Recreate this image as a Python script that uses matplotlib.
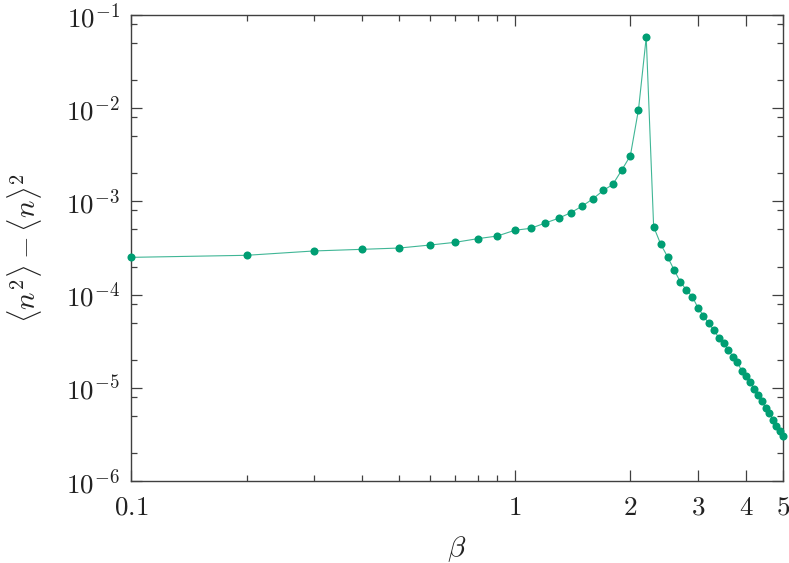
import numpy as np
import matplotlib
matplotlib.use("Agg")
import matplotlib.pyplot as plt
from matplotlib.ticker import FixedLocator, FixedFormatter, NullFormatter

plt.rcParams['mathtext.fontset'] = 'cm'
plt.rcParams['font.family'] = 'serif'
plt.rcParams['font.serif'] = ['DejaVu Serif']

# data
beta = [0.1, 0.2, 0.3, 0.4, 0.5, 0.6, 0.7, 0.8, 0.9, 1.0,
        1.1, 1.2, 1.3, 1.4, 1.5, 1.6, 1.7, 1.8, 1.9, 2.0,
        2.1, 2.2, 2.3, 2.4, 2.5, 2.6, 2.7, 2.8, 2.9, 3.0,
        3.1, 3.2, 3.3, 3.4, 3.5, 3.6, 3.7, 3.8, 3.9, 4.0,
        4.1, 4.2, 4.3, 4.4, 4.5, 4.6, 4.7, 4.8, 4.9, 5.0]
var_n = [2.51e-4, 2.64e-4, 2.94e-4, 3.06e-4, 3.16e-4, 3.40e-4, 3.64e-4, 3.98e-4, 4.25e-4, 4.90e-4,
         5.14e-4, 5.86e-4, 6.59e-4, 7.57e-4, 8.93e-4, 1.07e-3, 1.31e-3, 1.52e-3, 2.17e-3, 3.09e-3,
         9.64e-3, 5.77e-2, 5.35e-4, 3.47e-4, 2.55e-4, 1.84e-4, 1.37e-4, 1.12e-4, 9.5e-5, 7.24e-5,
         5.94e-5, 4.92e-5, 4.17e-5, 3.45e-5, 3.00e-5, 2.55e-5, 2.16e-5, 1.88e-5, 1.53e-5, 1.34e-5,
         1.16e-5, 9.7e-6, 8.3e-6, 7.17e-6, 6.12e-6, 5.41e-6, 4.55e-6, 3.92e-6, 3.43e-6, 3.04e-6]

xticks = [0.1, 1, 2, 3, 4, 5]
xtick_labels = ['$0.1$', '$1$', '$2$', '$3$', '$4$', '$5$']
xminor = [0.2, 0.3, 0.4, 0.5, 0.6, 0.7, 0.8, 0.9]
yticks = [1e-6, 1e-5, 1e-4, 1e-3, 1e-2, 1e-1]
ytick_labels = ['$10^{-6}$', '$10^{-5}$', '$10^{-4}$', '$10^{-3}$', '$10^{-2}$', '$10^{-1}$']

green = '#009e73'
axcol = '#404040'

fig = plt.figure(figsize=(7.89, 5.63), dpi=100)
ax = fig.add_axes([0.166, 0.1456, 0.8265, 0.8278])

ax.plot(beta, var_n, '-', color=green, lw=0.8, alpha=0.75, zorder=2)
ax.plot(beta, var_n, 'o', color=green, ms=5.8, mew=0, zorder=3, clip_on=False)

ax.set_xscale('log')
ax.set_yscale('log')
ax.set_xlim(0.1, 5)
ax.set_ylim(1e-6, 1e-1)

ax.xaxis.set_major_locator(FixedLocator(xticks))
ax.xaxis.set_major_formatter(FixedFormatter(xtick_labels))
ax.xaxis.set_minor_locator(FixedLocator(xminor))
ax.xaxis.set_minor_formatter(NullFormatter())

yminor = [m * d for d in [1e-6, 1e-5, 1e-4, 1e-3, 1e-2] for m in (2, 5, 8)]
ax.yaxis.set_major_locator(FixedLocator(yticks))
ax.yaxis.set_major_formatter(FixedFormatter(ytick_labels))
ax.yaxis.set_minor_locator(FixedLocator(yminor))
ax.yaxis.set_minor_formatter(NullFormatter())

ax.tick_params(which='both', direction='in', top=True, right=True, color=axcol, width=0.9)
ax.tick_params(which='major', length=8, labelsize=19.5, labelcolor='#222222')
ax.tick_params(which='minor', length=4)
ax.tick_params(axis='x', which='major', pad=9)
ax.tick_params(axis='y', which='major', pad=8)

for s in ax.spines.values():
    s.set_color(axcol)
    s.set_linewidth(1.0)

ax.set_xlabel(r'$\beta$', fontsize=21, color='#222222', labelpad=10)
ax.set_ylabel(r'$\langle n^2\rangle - \langle n\rangle^2$', fontsize=21, color='#222222', labelpad=16)

fig.savefig('out.png', dpi=100)
